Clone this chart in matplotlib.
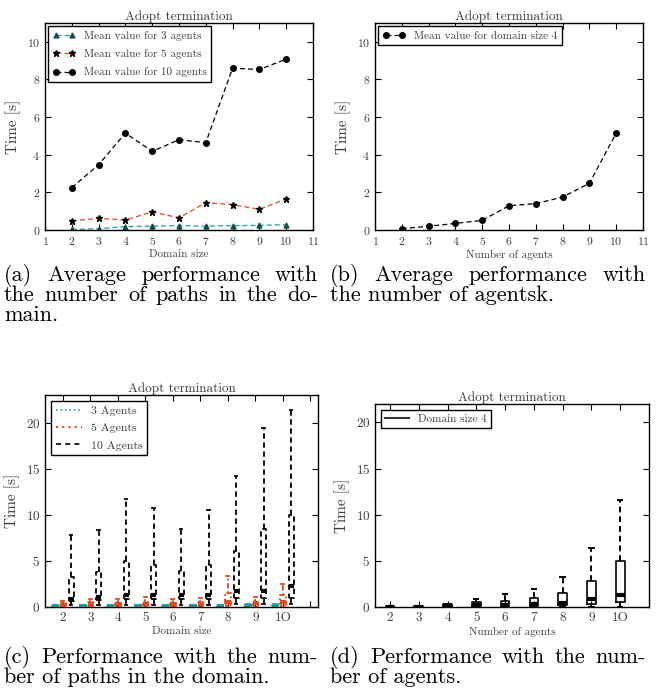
import matplotlib
matplotlib.use('Agg')
import matplotlib.pyplot as plt

# --- Data ---
domain_sizes = [2, 3, 4, 5, 6, 7, 8, 9, 10]
mean_3_agents = [0.03, 0.07, 0.18, 0.21, 0.23, 0.21, 0.23, 0.25, 0.28]
mean_5_agents = [0.48, 0.62, 0.53, 0.96, 0.65, 1.45, 1.35, 1.10, 1.65]
mean_10_agents = [2.25, 3.47, 5.15, 4.18, 4.80, 4.64, 8.60, 8.53, 9.08]

num_agents = [2, 3, 4, 5, 6, 7, 8, 9, 10]
mean_domain_4 = [0.07, 0.20, 0.35, 0.51, 1.29, 1.40, 1.75, 2.48, 5.15]

box_labels = ['2', '3', '4', '5', '6', '7', '8', '9', '1O']

# box stats per group: (whislo, q1, med, q3, whishi)
box_3_agents = [(0.02, 0.05, 0.10, 0.15, 0.20)] * 7 + [(0.02, 0.08, 0.15, 0.25, 0.30)] * 2
box_5_agents = [
    (0.0, 0.10, 0.25, 0.40, 0.70),
    (0.0, 0.12, 0.30, 0.50, 0.90),
    (0.0, 0.12, 0.30, 0.50, 0.90),
    (0.0, 0.15, 0.35, 0.60, 1.10),
    (0.0, 0.12, 0.30, 0.50, 0.90),
    (0.0, 0.15, 0.35, 0.55, 1.00),
    (0.0, 0.20, 0.50, 1.50, 3.40),
    (0.0, 0.15, 0.40, 0.60, 1.10),
    (0.0, 0.20, 0.50, 1.30, 2.50),
]
box_10_agents = [
    (0.2, 0.6, 0.9, 3.3, 7.8),
    (0.2, 0.8, 1.1, 3.8, 8.3),
    (0.2, 0.9, 1.3, 5.0, 11.7),
    (0.2, 0.9, 1.3, 4.6, 10.7),
    (0.2, 0.9, 1.3, 3.9, 8.5),
    (0.2, 0.9, 1.3, 4.6, 10.5),
    (0.3, 1.0, 1.7, 6.1, 14.2),
    (0.3, 1.0, 1.7, 8.5, 19.4),
    (0.3, 1.0, 2.3, 10.0, 21.4),
]
box_domain_4 = [
    (0.0, 0.02, 0.04, 0.06, 0.08),
    (0.0, 0.02, 0.04, 0.06, 0.08),
    (0.0, 0.05, 0.15, 0.30, 0.35),
    (0.0, 0.10, 0.20, 0.50, 0.85),
    (0.0, 0.10, 0.20, 0.60, 1.40),
    (0.0, 0.15, 0.35, 1.00, 2.00),
    (0.0, 0.20, 0.45, 1.50, 3.20),
    (0.0, 0.30, 0.90, 2.80, 6.40),
    (0.0, 0.50, 1.30, 5.00, 11.60),
]

caption_a = ['(a) Average performance with', 'the number of paths in the do-', 'main.']
caption_b = ['(b) Average performance with', 'the number of agentsk.']
caption_c = ['(c) Performance with the num-', 'ber of paths in the domain.']
caption_d = ['(d) Performance with the num-', 'ber of agents.']

TEAL = '#1f9e9a'
ORANGE = '#e2481c'
GREY = '#3c3c3c'

# --- Style ---
plt.rcParams['font.family'] = 'serif'
plt.rcParams['font.serif'] = ['cmr10']
plt.rcParams['mathtext.fontset'] = 'cm'
plt.rcParams['axes.unicode_minus'] = False
plt.rcParams['axes.formatter.use_mathtext'] = True
plt.rcParams['xtick.direction'] = 'in'
plt.rcParams['ytick.direction'] = 'in'
plt.rcParams['xtick.top'] = True
plt.rcParams['ytick.right'] = True
plt.rcParams['xtick.major.size'] = 4
plt.rcParams['ytick.major.size'] = 4
plt.rcParams['xtick.labelsize'] = 8.5
plt.rcParams['ytick.labelsize'] = 8.5
plt.rcParams['xtick.labelcolor'] = GREY
plt.rcParams['ytick.labelcolor'] = GREY
plt.rcParams['axes.linewidth'] = 1.0
plt.rcParams['legend.fancybox'] = False
plt.rcParams['legend.edgecolor'] = 'black'
plt.rcParams['legend.framealpha'] = 1.0
plt.rcParams['legend.labelcolor'] = GREY

W, H = 656, 698
fig = plt.figure(figsize=(W / 100, H / 100), dpi=100)
renderer = fig.canvas.get_renderer()


def px_axes(left, top, right, bottom):
    return fig.add_axes([left / W, 1 - bottom / H, (right - left) / W, (bottom - top) / H])


def finish(ax, xlabel):
    ax.set_title('Adopt termination', fontsize=9.5, pad=2, color=GREY)
    ax.set_xlabel(xlabel, fontsize=8, color=GREY, labelpad=2)
    ax.set_ylabel('Time [s]', fontsize=11, color=GREY)


DASH = (0, (4, 2.5))

# (a) mean vs domain size
ax_a = px_axes(45, 23, 313, 230)
ax_a.plot(domain_sizes, mean_3_agents, linestyle=DASH, lw=0.9, color=TEAL, marker='^', ms=3.5,
          mfc='#0f4f4d', mec='#0f4f4d', label='Mean value for 3 agents')
ax_a.plot(domain_sizes, mean_5_agents, linestyle=DASH, lw=0.9, color=ORANGE, marker='*', ms=4.5,
          mfc='black', mec='black', label='Mean value for 5 agents')
ax_a.plot(domain_sizes, mean_10_agents, linestyle=DASH, lw=0.9, color='black', marker='o', ms=4,
          label='Mean value for 10 agents')
ax_a.set_xlim(1, 11)
ax_a.set_ylim(0, 11)
ax_a.set_xticks(range(1, 12))
ax_a.set_yticks([0, 2, 4, 6, 8, 10])
ax_a.legend(loc='upper left', fontsize=8, numpoints=2, handlelength=2.0,
            borderaxespad=0.3, labelspacing=0.75)
finish(ax_a, 'Domain size')

# (b) mean vs number of agents
ax_b = px_axes(375, 23, 643, 230)
ax_b.plot(num_agents, mean_domain_4, linestyle=DASH, lw=0.9, color='black', marker='o', ms=4,
          label='Mean value for domain size 4')
ax_b.set_xlim(1, 11)
ax_b.set_ylim(0, 11)
ax_b.set_xticks(range(1, 12))
ax_b.set_yticks([0, 2, 4, 6, 8, 10])
ax_b.legend(loc='upper left', fontsize=8, numpoints=2, handlelength=2.0,
            borderaxespad=0.3)
finish(ax_b, 'Number of agents')


def make_stats(rows):
    return [dict(whislo=r[0], q1=r[1], med=r[2], q3=r[3], whishi=r[4]) for r in rows]


# (c) boxplots vs domain size
ax_c = px_axes(45, 395, 318, 607)
groups = list(range(2, 11))
series = [
    (box_3_agents, TEAL, ':', -0.27, 0.28),
    (box_5_agents, ORANGE, (0, (1, 1.5, 3, 1.5)), 0.0, 0.2),
    (box_10_agents, 'black', (0, (3, 2)), 0.3, 0.18),
]
for rows, col, ls, off, wd in series:
    line = dict(color=col, linestyle=ls, linewidth=1.3)
    ax_c.bxp(make_stats(rows), positions=[g + off for g in groups], widths=wd,
             showfliers=False, boxprops=line, whiskerprops=line,
             capprops=dict(color=col, linewidth=1.3),
             medianprops=dict(color=col, linewidth=3), manage_ticks=False)
ax_c.plot([], [], ':', color=TEAL, lw=1.2, label='3 Agents')
ax_c.plot([], [], linestyle=(0, (1, 2, 1, 2)), color=ORANGE, lw=1.5, label='5 Agents')
ax_c.plot([], [], linestyle=(0, (3, 2.5)), color='black', lw=1.2, label='10 Agents')
ax_c.set_xlim(1.35, 11.28)
ax_c.set_ylim(0, 23)
ax_c.set_xticks(list(range(2, 12)))
ax_c.set_xticklabels(box_labels + [''], fontsize=9.5)
ax_c.set_yticks([0, 5, 10, 15, 20])
ax_c.tick_params(axis='y', labelsize=9.5)
ax_c.legend(loc='upper left', fontsize=8.5, handlelength=2.2,
            borderaxespad=0.5, labelspacing=0.6)
finish(ax_c, 'Domain size')

# (d) boxplots vs number of agents
ax_d = px_axes(375, 404, 649, 607)
ax_d.bxp(make_stats(box_domain_4), positions=num_agents, widths=0.3,
         showfliers=False, boxprops=dict(color='black', linewidth=1.2),
         whiskerprops=dict(color='black', linestyle=(0, (3, 2)), linewidth=1.4),
         capprops=dict(color='black', linewidth=1.4),
         medianprops=dict(color='black', linewidth=3), manage_ticks=False)
ax_d.plot([], [], '-', color='#333333', lw=1.5, label='Domain size 4')
ax_d.set_xlim(1.48, 11.0)
ax_d.set_ylim(0, 22)
ax_d.set_xticks(num_agents)
ax_d.set_xticklabels(box_labels, fontsize=9.5)
ax_d.set_yticks([0, 5, 10, 15, 20])
ax_d.tick_params(axis='y', labelsize=9.5)
ax_d.legend(loc='upper left', fontsize=8, handlelength=2.2, borderaxespad=0.5)
finish(ax_d, 'Number of agents')


# captions, justified like the LaTeX subcaptions
def caption(lines, x0, x1, y0, step, size=16):
    for i, text in enumerate(lines):
        yb = 1 - (y0 + i * step) / H
        last = i == len(lines) - 1 and not text.endswith('-')
        if last:
            fig.text(x0 / W, yb, text, fontsize=size, va='baseline', ha='left')
            continue
        words = text.split(' ')
        objs = [fig.text(0, yb, w, fontsize=size, va='baseline', ha='left') for w in words]
        widths = [o.get_window_extent(renderer=renderer).width for o in objs]
        gap = (x1 - x0 - sum(widths)) / (len(words) - 1)
        x = x0
        for o, w in zip(objs, widths):
            o.set_x(x / W)
            x += w + gap


caption(caption_a, 4, 318, 281, 20)
caption(caption_b, 330, 646, 281, 20)
caption(caption_c, 4, 318, 663, 20)
caption(caption_d, 330, 646, 663, 20)

fig.savefig('out.png', dpi=100)
